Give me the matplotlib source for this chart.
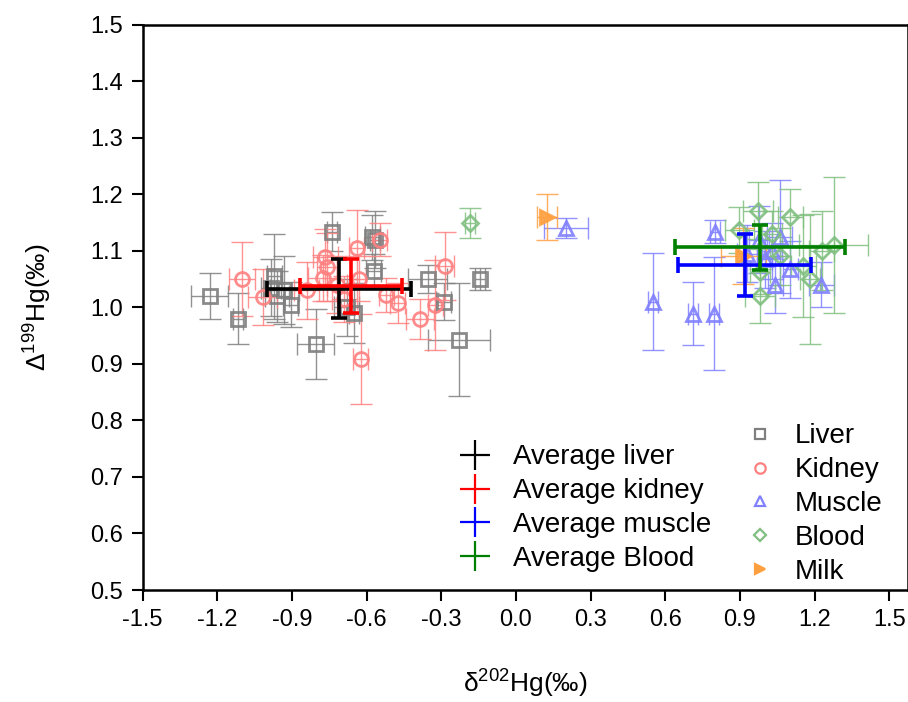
import matplotlib
matplotlib.use("Agg")
import matplotlib.pyplot as plt
from matplotlib.lines import Line2D

plt.rcParams['font.family'] = ['Liberation Sans', 'DejaVu Sans']
plt.rcParams['mathtext.fontset'] = 'custom'
plt.rcParams['mathtext.rm'] = 'Liberation Sans'
plt.rcParams['mathtext.it'] = 'Liberation Sans'

# ---- individual samples: d202Hg, D199Hg, 2SD errors ----
liver_x = [-1.23, -1.115, -0.97, -0.985, -0.96, -0.93, -0.905, -0.805, -0.74, -0.68,
           -0.652, -0.578, -0.568, -0.572, -0.355, -0.29, -0.228, -0.146]
liver_y = [1.02, 0.98, 1.055, 1.035, 1.02, 1.03, 1.005, 0.935, 1.134, 1.0,
           0.99, 1.124, 1.12, 1.065, 1.05, 1.01, 0.943, 1.05]
liver_xerr = [0.075, 0.02, 0.03, 0.04, 0.05, 0.06, 0.03, 0.075, 0.02, 0.05,
              0.02, 0.03, 0.02, 0.03, 0.077, 0.03, 0.125, 0.02]
liver_yerr = [0.04, 0.045, 0.075, 0.05, 0.045, 0.06, 0.04, 0.062, 0.035, 0.05,
              0.053, 0.04, 0.05, 0.03, 0.025, 0.033, 0.1, 0.02]

kidney_x = [-1.1, -1.018, -0.84, -0.766, -0.758, -0.777, -0.72, -0.639, -0.548,
            -0.632, -0.623, -0.521, -0.474, -0.387, -0.324, -0.287, -0.69]
kidney_y = [1.05, 1.018, 1.03, 1.089, 1.072, 1.052, 1.04, 1.105, 1.12,
            1.051, 0.909, 1.022, 1.008, 0.979, 1.004, 1.073, 1.015]
kidney_xerr = [0.052, 0.06, 0.05, 0.05, 0.04, 0.06, 0.04, 0.03, 0.03,
               0.03, 0.03, 0.03, 0.03, 0.056, 0.03, 0.04, 0.05]
kidney_yerr = [0.066, 0.05, 0.05, 0.05, 0.06, 0.04, 0.05, 0.067, 0.03,
               0.04, 0.08, 0.03, 0.035, 0.035, 0.08, 0.06, 0.04]

muscle_x = [0.202, 0.55, 0.713, 0.796, 0.80, 0.93, 0.975, 1.0, 1.041, 1.06, 1.102, 1.226, 1.03]
muscle_y = [1.14, 1.01, 0.989, 0.989, 1.134, 1.095, 1.12, 1.085, 1.04, 1.125, 1.067, 1.04, 1.1]
muscle_xerr = [0.089, 0.02, 0.02, 0.02, 0.02, 0.04, 0.04, 0.03, 0.03, 0.05, 0.03, 0.05, 0.04]
muscle_yerr = [0.018, 0.086, 0.055, 0.1, 0.02, 0.05, 0.06, 0.05, 0.05, 0.1, 0.05, 0.04, 0.05]

blood_x = [-0.184, 0.898, 0.974, 1.03, 0.981, 0.981, 1.102, 1.155, 1.182, 1.229, 1.276, 1.06]
blood_y = [1.149, 1.137, 1.171, 1.13, 1.063, 1.02, 1.159, 1.073, 1.051, 1.1, 1.11, 1.09]
blood_xerr = [0.02, 0.06, 0.06, 0.04, 0.04, 0.06, 0.05, 0.05, 0.04, 0.05, 0.137, 0.04]
blood_yerr = [0.027, 0.04, 0.05, 0.04, 0.04, 0.048, 0.05, 0.09, 0.115, 0.07, 0.12, 0.05]

milk_x = [0.124, 0.914]
milk_y = [1.16, 1.091]
milk_xerr = [0.04, 0.09]
milk_yerr = [0.04, 0.05]

# ---- tissue averages (mean +/- SD) ----
avg_labels = ['Average liver', 'Average kidney', 'Average muscle', 'Average Blood']
avg_x = [-0.711, -0.662, 0.919, 0.98]
avg_y = [1.033, 1.038, 1.075, 1.106]
avg_xerr = [0.29, 0.204, 0.266, 0.34]
avg_yerr = [0.052, 0.048, 0.055, 0.04]
avg_colors = ['black', '#ff0000', '#0000ff', '#008000']

x_ticks = [-1.5, -1.2, -0.9, -0.6, -0.3, 0.0, 0.3, 0.6, 0.9, 1.2, 1.5]
y_ticks = [0.5, 0.6, 0.7, 0.8, 0.9, 1.0, 1.1, 1.2, 1.3, 1.4, 1.5]

fig = plt.figure(figsize=(9.08, 7.02), dpi=100)
ax = fig.add_axes([0.157, 0.1595, 0.843, 0.8053])

groups = [
    ('Liver', liver_x, liver_y, liver_xerr, liver_yerr, 's', '#7f7f7f', False),
    ('Kidney', kidney_x, kidney_y, kidney_xerr, kidney_yerr, 'o', '#ff8080', False),
    ('Muscle', muscle_x, muscle_y, muscle_xerr, muscle_yerr, '^', '#8080ff', False),
    ('Blood', blood_x, blood_y, blood_xerr, blood_yerr, 'D', '#80bf80', False),
    ('Milk', milk_x, milk_y, milk_xerr, milk_yerr, '>', '#ffa040', True),
]

sample_handles = []
for name, xs, ys, xe, ye, mk, col, filled in groups:
    ms = 8.5 if mk == 'D' else 10
    ax.errorbar(xs, ys, xerr=xe, yerr=ye, fmt='none', ecolor=col,
                elinewidth=1.0, capsize=8, capthick=1.0, alpha=0.85, zorder=2)
    ax.plot(xs, ys, linestyle='none', marker=mk, markersize=ms,
            markerfacecolor=(col if filled else 'none'), markeredgecolor=col,
            markeredgewidth=2.0, alpha=0.9, zorder=3)
    sample_handles.append(Line2D([], [], linestyle='none', marker=mk,
                                 markersize=7.5 if mk != 'D' else 6.5,
                                 markerfacecolor=(col if filled else 'none'),
                                 markeredgecolor=col, markeredgewidth=1.6,
                                 label=name))

avg_handles = []
for lab, x, y, xe, ye, col in zip(avg_labels, avg_x, avg_y, avg_xerr, avg_yerr, avg_colors):
    ax.errorbar([x], [y], xerr=[xe], yerr=[ye], fmt='none', ecolor=col,
                elinewidth=2.6, capsize=6, capthick=2.6, zorder=5)
    avg_handles.append(Line2D([], [], linestyle='none', marker='+', markersize=22,
                              markeredgewidth=1.6, color=col, label=lab))

ax.set_xlim(-1.5, 1.575)
ax.set_ylim(0.5, 1.5)
ax.set_xticks(x_ticks)
ax.set_xticklabels([f'{v:.1f}' for v in x_ticks])
ax.set_yticks(y_ticks)
ax.set_yticklabels([f'{v:.1f}' for v in y_ticks])
ax.tick_params(direction='out', length=8, width=1.5, labelsize=17, pad=6)
for side in ['left', 'bottom', 'top', 'right']:
    ax.spines[side].set_linewidth(1.8)

ax.set_xlabel(r'$\mathregular{\delta^{202}}$Hg(‰)', fontsize=19, labelpad=26)
ax.set_ylabel(r'$\mathregular{\Delta^{199}}$Hg(‰)', fontsize=19, labelpad=26)

leg1 = ax.legend(handles=avg_handles, loc='upper left',
                 bbox_to_anchor=(437 / 908, 1 - 425 / 702), bbox_transform=fig.transFigure,
                 frameon=False, fontsize=20, handlelength=1.3, handletextpad=0.75,
                 labelspacing=0.28, borderpad=0.2)
ax.add_artist(leg1)
ax.legend(handles=sample_handles, loc='upper left',
          bbox_to_anchor=(727 / 908, 1 - 404 / 702), bbox_transform=fig.transFigure,
          frameon=False, fontsize=20, handlelength=1.0, handletextpad=0.75,
          labelspacing=0.28, borderpad=0.2)

fig.savefig('out.png', dpi=100)
